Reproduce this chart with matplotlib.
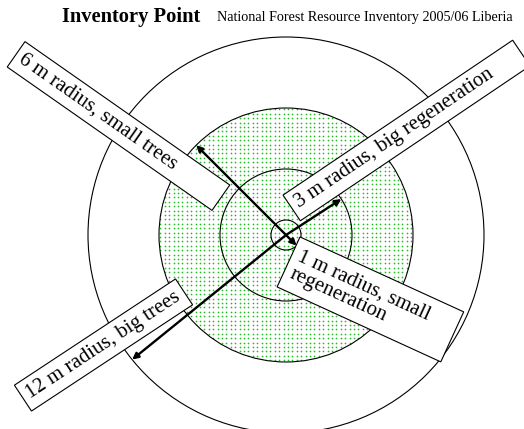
import numpy as np
import matplotlib
matplotlib.use("Agg")
import matplotlib.pyplot as plt
from matplotlib.patches import Circle, Polygon

plt.rcParams['font.family'] = ['Liberation Serif', 'DejaVu Serif']

# plot centre and circle radii (in pixels of the drawing)
centre = (286, 235)
radius_names = ["12 m", "6 m", "3 m", "1 m"]
radius_px = [198, 127, 66, 15]

# arrows: which circle they point to and at what angle (deg, counter-clockwise)
arrow_target = ["6 m", "3 m", "12 m", "1 m"]
arrow_angle = [135, 33, 219, -45]

labels = ["6 m radius, small trees",
          "3 m radius, big regeneration",
          "12 m radius, big trees",
          "1 m radius, small\nregeneration"]

title = "Inventory Point"
subtitle = "National Forest Resource Inventory 2005/06 Liberia"


def rot_box(ax, cx, cy, length, width, angle):
    a = np.radians(angle)
    u = np.array([np.cos(a), -np.sin(a)])
    v = np.array([np.sin(a), np.cos(a)])
    c = np.array([cx, cy])
    pts = [c - u * length / 2 - v * width / 2,
           c + u * length / 2 - v * width / 2,
           c + u * length / 2 + v * width / 2,
           c - u * length / 2 + v * width / 2]
    ax.add_patch(Polygon(pts, closed=True, fc='white', ec='black', lw=0.8, zorder=5))
    return c - u * length / 2, u


fig = plt.figure(figsize=(5.24, 4.29), dpi=100)
ax = fig.add_axes([0, 0, 1, 1])
ax.set_xlim(0, 524)
ax.set_ylim(429, 0)
ax.axis('off')

rad = dict(zip(radius_names, radius_px))

# dotted green area (6 m circle)
green = Circle(centre, rad["6 m"], fc='none', ec='none')
ax.add_patch(green)
gx, gy = np.meshgrid(np.arange(centre[0] - 130, centre[0] + 131, 4.4),
                     np.arange(centre[1] - 130, centre[1] + 131, 4.4))
dots = ax.scatter(gx.ravel(), gy.ravel(), s=1.5, marker='o', c='#1fbf1f',
                  linewidths=0, zorder=1)
dots.set_clip_path(green)

for r in radius_px:
    ax.add_patch(Circle(centre, r, fc='none', ec='black', lw=0.8, zorder=2))

for name, ang in zip(arrow_target, arrow_angle):
    a = np.radians(ang)
    end = (centre[0] + rad[name] * np.cos(a), centre[1] - rad[name] * np.sin(a))
    ax.annotate("", xy=end, xytext=centre,
                arrowprops=dict(arrowstyle='-|>', lw=1.7, color='black',
                                mutation_scale=9, shrinkA=0, shrinkB=0),
                zorder=4)

# label boxes
start, u = rot_box(ax, 118.5, 126, 250, 31, -35)
p = start + u * 5
ax.text(p[0], p[1], labels[0], rotation=-35, rotation_mode='anchor',
        ha='left', va='center', fontsize=15, zorder=6)

start, u = rot_box(ax, 406.5, 130.5, 277, 31, 34)
p = start + u * 6
ax.text(p[0], p[1], labels[1], rotation=34, rotation_mode='anchor',
        ha='left', va='center', fontsize=15, zorder=6)

rot_box(ax, 103.5, 345, 193, 31, 33.4)
ax.text(103.5, 345, labels[2], rotation=33.4, rotation_mode='anchor',
        ha='center', va='center', fontsize=15, zorder=6)

start, u = rot_box(ax, 370.4, 299.4, 180, 55, -24.6)
p = start + u * 6
ax.text(p[0], p[1], labels[3], rotation=-24.6, rotation_mode='anchor',
        ha='left', va='center', fontsize=15, linespacing=1.0,
        multialignment='left', zorder=6)

ax.text(62, 17, title, fontsize=14.8, fontweight='bold', ha='left', va='center')
ax.text(217, 18, subtitle, fontsize=10.2, ha='left', va='center')

plt.savefig("out.png", dpi=100)
plt.close()
